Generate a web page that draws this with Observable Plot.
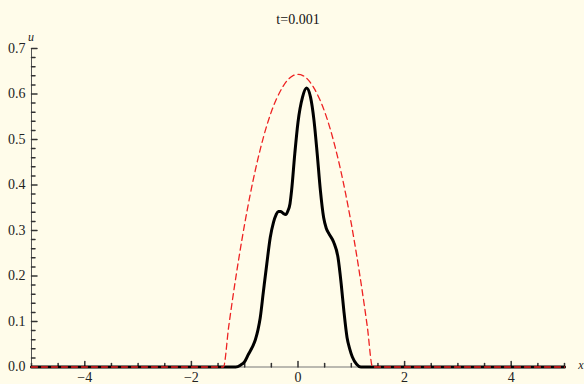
<!DOCTYPE html>
<html><head><meta charset="utf-8">
<script src="https://cdn.jsdelivr.net/npm/d3@7"></script>
<script src="https://cdn.jsdelivr.net/npm/@observablehq/plot@0.6"></script>
<style>
html,body{margin:0;padding:0;background:#fffcea;}
svg text{font-family:"Liberation Serif","Times New Roman",serif !important;}
</style></head><body><div id="chart"></div>
<script>
const title = "t=0.001";
const xLabel = "x";
const yLabel = "u";

// numerical solution (black solid)
const xSolution = [-5, -1.17, -1.08, -1.0, -0.93, -0.86, -0.80, -0.75, -0.71, -0.65, -0.585, -0.52, -0.46, -0.41, -0.37, -0.33, -0.28, -0.23, -0.19, -0.15, -0.12, -0.06, 0.0, 0.085, 0.16, 0.235, 0.30, 0.36, 0.42, 0.48, 0.53, 0.58, 0.67, 0.75, 0.81, 0.86, 0.92, 0.97, 1.02, 1.10, 1.18, 5];
const uSolution = [0, 0, 0.004, 0.012, 0.028, 0.043, 0.060, 0.082, 0.107, 0.165, 0.227, 0.285, 0.318, 0.335, 0.342, 0.342, 0.338, 0.335, 0.343, 0.359, 0.388, 0.469, 0.538, 0.593, 0.613, 0.593, 0.542, 0.469, 0.388, 0.329, 0.305, 0.293, 0.274, 0.241, 0.183, 0.124, 0.065, 0.040, 0.022, 0.006, 0, 0];

// reference profile (red dashed)
const xProfile = [-5, -1.4, -1.3, -1.2, -1.1, -1.0, -0.9, -0.8, -0.7, -0.6, -0.5, -0.4, -0.3, -0.2, -0.1, 0, 0.1, 0.2, 0.3, 0.4, 0.5, 0.6, 0.7, 0.8, 0.9, 1.0, 1.1, 1.2, 1.3, 1.4, 5];
const uProfile = [0, 0, 0.089, 0.171, 0.246, 0.315, 0.377, 0.433, 0.482, 0.525, 0.561, 0.590, 0.613, 0.630, 0.640, 0.643, 0.640, 0.630, 0.613, 0.590, 0.561, 0.525, 0.482, 0.433, 0.377, 0.315, 0.246, 0.171, 0.089, 0, 0];

const xMajorTicks = [-4, -2, 0, 2, 4];
const xTickLabels = ["\u22124", "\u22122", "0", "2", "4"];
const xMinorTicks = [-5, -4.5, -3.5, -3, -2.5, -1.5, -1, -0.5, 0.5, 1, 1.5, 2.5, 3, 3.5, 4.5, 5];
const yMajorTicks = [0, 0.1, 0.2, 0.3, 0.4, 0.5, 0.6, 0.7];
const yTickLabels = ["0.0", "0.1", "0.2", "0.3", "0.4", "0.5", "0.6", "0.7"];
const yMinorTicks = [0.02, 0.04, 0.06, 0.08, 0.12, 0.14, 0.16, 0.18, 0.22, 0.24, 0.26, 0.28, 0.32, 0.34, 0.36, 0.38, 0.42, 0.44, 0.46, 0.48, 0.52, 0.54, 0.56, 0.58, 0.62, 0.64, 0.66, 0.68];

const solution = xSolution.map((x, i) => ({x, u: uSolution[i]}));
const profile = xProfile.map((x, i) => ({x, u: uProfile[i]}));

const tickShape = {draw(context, l) { context.moveTo(0, 0); context.lineTo(0, -l); }};
const axisColor = "#555";
const font = "Liberation Serif";

const chart = Plot.plot({
  width: 584,
  height: 384,
  marginLeft: 31,
  marginRight: 20,
  marginTop: 48,
  marginBottom: 17.5,
  style: {background: "#fffcea", fontFamily: font, fontSize: "14px", color: "#222"},
  x: {domain: [-5, 5]},
  y: {domain: [0, 0.7]},
  marks: [
    Plot.ruleY([0], {stroke: "#777"}),
    Plot.ruleX([-5], {y1: 0, y2: 0.7, stroke: axisColor}),
    Plot.vector(xMajorTicks, {x: d => d, y: 0, length: 5.5, rotate: 0, anchor: "start", shape: tickShape, stroke: "#333"}),
    Plot.vector(xMinorTicks, {x: d => d, y: 0, length: 3.5, rotate: 0, anchor: "start", shape: tickShape, stroke: "#333"}),
    Plot.vector(yMajorTicks, {x: -5, y: d => d, length: 5.5, rotate: 90, anchor: "start", shape: tickShape, stroke: "#333"}),
    Plot.vector(yMinorTicks, {x: -5, y: d => d, length: 3.5, rotate: 90, anchor: "start", shape: tickShape, stroke: "#333"}),
    Plot.axisX({ticks: xMajorTicks, tickSize: 0, tickPadding: 5, tickFormat: d => xTickLabels[xMajorTicks.indexOf(d)], label: null, fill: "#222", fontSize: 14, fontFamily: font}),
    Plot.axisY({ticks: yMajorTicks, tickSize: 0, tickPadding: 6, tickFormat: d => yTickLabels[yMajorTicks.indexOf(d)], label: null, fill: "#222", fontSize: 14, fontFamily: font}),
    Plot.line(solution, {x: "x", y: "u", stroke: "black", strokeWidth: 3, curve: "monotone-x"}),
    Plot.line(profile, {x: "x", y: "u", stroke: "#ee2222", strokeWidth: 1.3, strokeDasharray: "6,4", curve: "monotone-x"}),
    Plot.text([title], {frameAnchor: "top", dy: -34, fontSize: 14, fontFamily: font, textAnchor: "middle", fill: "#111"}),
    Plot.text([yLabel], {frameAnchor: "top-left", dy: -16.5, dx: -0.5, fontSize: 12, fontFamily: font, fontStyle: "italic", textAnchor: "middle", fill: "#222"}),
    Plot.text([xLabel], {frameAnchor: "bottom-right", dx: 16.5, dy: 2, fontSize: 12, fontFamily: font, fontStyle: "italic", textAnchor: "middle", fill: "#222"})
  ]
});
document.getElementById("chart").appendChild(chart);
</script>
</body></html>
